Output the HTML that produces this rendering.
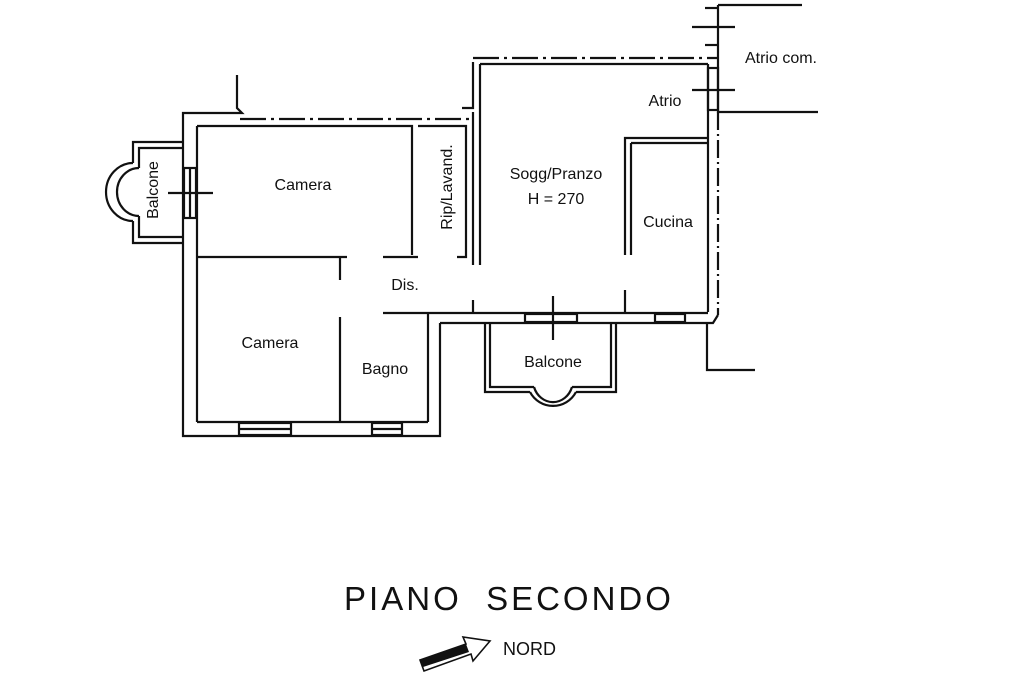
<!DOCTYPE html>
<html><head><style>
html,body{margin:0;padding:0;background:#fff;}
svg{display:block;}
text{font-family:"Liberation Sans",Arial,sans-serif;fill:#111;}
</style></head><body>
<svg width="1024" height="683" viewBox="0 0 1024 683" xmlns="http://www.w3.org/2000/svg">
<g fill="none" stroke="#111" stroke-width="2.2">
<polyline points="237,75 237,108 242,113 183,113 183,436 440,436 440,323"/>
<line x1="240" y1="119" x2="472" y2="119" stroke-dasharray="26,5,3,5"/>
<polyline points="197,126 412,126 412,255"/>
<line x1="197" y1="126" x2="197" y2="422"/>
<polyline points="197,257 347,257"/>
<line x1="340" y1="257" x2="340" y2="280"/>
<line x1="340" y1="317" x2="340" y2="422"/>
<polyline points="383,257 418,257"/>
<polyline points="418,126 466,126 466,257 457,257"/>
<line x1="197" y1="422" x2="428" y2="422"/>
<line x1="428" y1="313" x2="428" y2="422"/>
<polyline points="473,62 473,108 462,108"/>
<line x1="480" y1="64" x2="480" y2="265"/>
<line x1="473" y1="112" x2="473" y2="265"/>
<line x1="473" y1="58" x2="718" y2="58" stroke-dasharray="26,5,3,5"/>
<line x1="480" y1="64" x2="708" y2="64"/>
<line x1="708" y1="64" x2="708" y2="312"/>
<line x1="718" y1="112" x2="718" y2="315" stroke-dasharray="18,4,2,4"/>
<polyline points="718,315 713,323 440,323"/>
<line x1="383" y1="313" x2="708" y2="313"/>
<line x1="473" y1="300" x2="473" y2="313"/>
<polyline points="708,138 625,138 625,255"/>
<line x1="631" y1="143" x2="708" y2="143"/>
<line x1="631" y1="143" x2="631" y2="255"/>
<line x1="625" y1="290" x2="625" y2="312"/>
<polyline points="718,5 718,112 818,112"/>
<line x1="718" y1="5" x2="802" y2="5"/>
<line x1="705" y1="8" x2="718" y2="8"/>
<line x1="692" y1="27" x2="735" y2="27"/>
<line x1="705" y1="45" x2="718" y2="45"/>
<line x1="692" y1="90" x2="735" y2="90"/>
<polyline points="707,323 707,370 755,370"/>
<polyline points="485,323 485,392 530,392"/>
<polyline points="616,323 616,392 576,392"/>
<path d="M530,392 A26,26 0 0 0 576,392"/>
<polyline points="490,323 490,387 534,387"/>
<polyline points="611,323 611,387 572,387"/>
<path d="M534,387 A20,22 0 0 0 572,387"/>
<line x1="553" y1="296" x2="553" y2="340"/>
<polyline points="183,142 133,142 133,163"/>
<polyline points="183,243 133,243 133,221"/>
<path d="M133,163 A27,29 0 0 0 133,221"/>
<polyline points="183,148 139,148 139,168"/>
<polyline points="183,237 139,237 139,216"/>
<path d="M139,168 A22,24 0 0 0 139,216"/>
<line x1="168" y1="193" x2="213" y2="193"/>
<rect x="184" y="168" width="12" height="50"/>
<line x1="190" y1="168" x2="190" y2="218"/>
<rect x="239" y="423" width="52" height="12"/>
<line x1="239" y1="429" x2="291" y2="429"/>
<rect x="372" y="423" width="30" height="12"/>
<line x1="372" y1="429" x2="402" y2="429"/>
<rect x="525" y="314" width="52" height="8"/>
<rect x="655" y="314" width="30" height="8"/>
<rect x="708" y="68" width="10" height="42"/>
</g>
<g font-size="16">
<text x="303" y="190" text-anchor="middle">Camera</text>
<text x="270" y="348" text-anchor="middle">Camera</text>
<text x="385" y="374" text-anchor="middle">Bagno</text>
<text x="405" y="290" text-anchor="middle">Dis.</text>
<text x="556" y="179" text-anchor="middle">Sogg/Pranzo</text>
<text x="556" y="204" text-anchor="middle">H = 270</text>
<text x="668" y="227" text-anchor="middle">Cucina</text>
<text x="665" y="106" text-anchor="middle">Atrio</text>
<text x="781" y="63" text-anchor="middle">Atrio com.</text>
<text x="553" y="367" text-anchor="middle">Balcone</text>
<text transform="translate(158,190) rotate(-90)" text-anchor="middle">Balcone</text>
<text transform="translate(452,187) rotate(-90)" text-anchor="middle">Rip/Lavand.</text>
</g>
<text x="509" y="610" text-anchor="middle" font-size="33" style="letter-spacing:3px" fill="#222">PIANO&#160;&#160;SECONDO</text>
<text x="503" y="655" font-size="18">NORD</text>
<path d="M420,660 L466,644 L463,637 L490,641 L473,661 L471,654 L424,671 Z" fill="#fff" stroke="#111" stroke-width="1.6"/>
<path d="M420,660 L466,644 L469,652 L423,667 Z" fill="#111"/>
</svg>
</body></html>
